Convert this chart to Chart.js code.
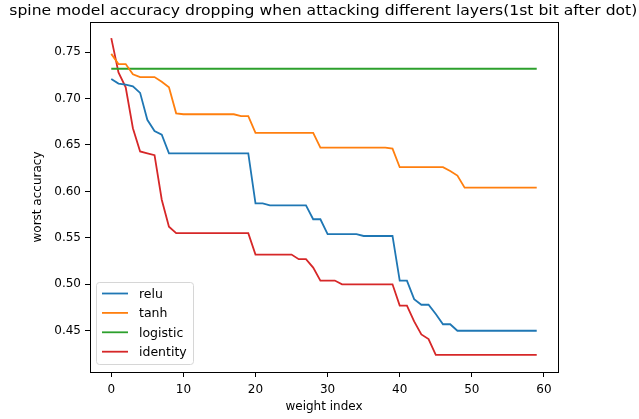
<!DOCTYPE html>
<html>
<head>
<meta charset="utf-8">
<script src="https://cdn.jsdelivr.net/npm/chart.js@4"></script>
<style>
  html, body { margin: 0; padding: 0; background: #fff; }
</style>
</head>
<body>
<canvas id="accChart" width="639" height="419"></canvas>
<script>
// worst accuracy per attacked weight index
const weightIndex = [0,1,2,3,4,5,6,7,8,9,10,11,12,13,14,15,16,17,18,19,20,21,22,23,24,25,26,27,28,29,
  30,31,32,33,34,35,36,37,38,39,40,41,42,43,44,45,46,47,48,49,50,51,52,53,54,55,56,57,58,59];

const relu = [0.721,0.716,0.715,0.713,0.706,0.677,0.665,0.661,0.641,0.641,
  0.641,0.641,0.641,0.641,0.641,0.641,0.641,0.641,0.641,0.641,
  0.587,0.587,0.585,0.585,0.585,0.585,0.585,0.585,0.570,0.570,
  0.554,0.554,0.554,0.554,0.554,0.552,0.552,0.552,0.552,0.552,
  0.504,0.504,0.484,0.478,0.478,0.468,0.457,0.457,0.450,0.450,
  0.450,0.450,0.450,0.450,0.450,0.450,0.450,0.450,0.450,0.450];

const tanh = [0.748,0.737,0.737,0.726,0.723,0.723,0.723,0.718,0.712,0.684,
  0.683,0.683,0.683,0.683,0.683,0.683,0.683,0.683,0.681,0.681,
  0.663,0.663,0.663,0.663,0.663,0.663,0.663,0.663,0.663,0.647,
  0.647,0.647,0.647,0.647,0.647,0.647,0.647,0.647,0.647,0.646,
  0.626,0.626,0.626,0.626,0.626,0.626,0.626,0.622,0.617,0.604,
  0.604,0.604,0.604,0.604,0.604,0.604,0.604,0.604,0.604,0.604];

const logistic = [0.732,0.732,0.732,0.732,0.732,0.732,0.732,0.732,0.732,0.732,
  0.732,0.732,0.732,0.732,0.732,0.732,0.732,0.732,0.732,0.732,
  0.732,0.732,0.732,0.732,0.732,0.732,0.732,0.732,0.732,0.732,
  0.732,0.732,0.732,0.732,0.732,0.732,0.732,0.732,0.732,0.732,
  0.732,0.732,0.732,0.732,0.732,0.732,0.732,0.732,0.732,0.732,
  0.732,0.732,0.732,0.732,0.732,0.732,0.732,0.732,0.732,0.732];

const identity = [0.765,0.728,0.712,0.668,0.643,0.641,0.639,0.591,0.562,0.555,
  0.555,0.555,0.555,0.555,0.555,0.555,0.555,0.555,0.555,0.555,
  0.532,0.532,0.532,0.532,0.532,0.532,0.527,0.527,0.518,0.504,
  0.504,0.504,0.500,0.500,0.500,0.500,0.500,0.500,0.500,0.500,
  0.477,0.477,0.460,0.446,0.441,0.424,0.424,0.424,0.424,0.424,
  0.424,0.424,0.424,0.424,0.424,0.424,0.424,0.424,0.424,0.424];

const seriesNames = ["relu", "tanh", "logistic", "identity"];
const seriesColors = ["#1f77b4", "#ff7f0e", "#2ca02c", "#d62728"];
const xTicks = [0, 10, 20, 30, 40, 50, 60];
const yTicks = [0.45, 0.50, 0.55, 0.60, 0.65, 0.70, 0.75];
const chartTitle = "spine model accuracy dropping when attacking different layers(1st bit after dot)";

const FONT = "'DejaVu Sans', sans-serif";
Chart.defaults.font.family = FONT;
Chart.defaults.color = "#000";

// title drawn by hand so it can sit over the axes centre like matplotlib does
const titlePlugin = {
  id: "wideTitle",
  afterDraw(chart) {
    const c = chart.ctx;
    c.save();
    c.font = "14.5px " + FONT;
    c.fillStyle = "#000";
    c.textBaseline = "alphabetic";
    const w = c.measureText(chartTitle).width;
    const sx = 628 / w;  // the reference glyphs are a bit wider than tall
    c.translate(9.3, 14.6);
    c.scale(sx, 1);
    c.fillText(chartTitle, 0, 0);
    c.restore();
  }
};

// matplotlib style box around the axes
const framePlugin = {
  id: "frame",
  afterDatasetsDraw(chart) {
    const a = chart.chartArea, c = chart.ctx;
    c.save();
    c.strokeStyle = "#000";
    c.lineWidth = 1;
    c.strokeRect(Math.round(a.left) + 0.5, Math.round(a.top) + 0.5,
      Math.round(a.right - a.left), Math.round(a.bottom - a.top));
    c.restore();
  }
};

// legend box in the lower left corner of the axes
const boxLegend = {
  id: "boxLegend",
  afterDraw(chart) {
    const c = chart.ctx;
    const x = 96.5, y = 282.5, w = 97, h = 82, r = 3;
    c.save();
    c.beginPath();
    c.moveTo(x + r, y);
    c.lineTo(x + w - r, y); c.quadraticCurveTo(x + w, y, x + w, y + r);
    c.lineTo(x + w, y + h - r); c.quadraticCurveTo(x + w, y + h, x + w - r, y + h);
    c.lineTo(x + r, y + h); c.quadraticCurveTo(x, y + h, x, y + h - r);
    c.lineTo(x, y + r); c.quadraticCurveTo(x, y, x + r, y);
    c.closePath();
    c.fillStyle = "rgba(255,255,255,0.8)";
    c.fill();
    c.strokeStyle = "#d6d6d6";
    c.lineWidth = 1;
    c.stroke();
    c.font = "12.5px " + FONT;
    c.textBaseline = "middle";
    chart.data.datasets.forEach((ds, i) => {
      const ry = 293.5 + i * 19.4;
      c.strokeStyle = ds.borderColor;
      c.lineWidth = 1.8;
      c.beginPath();
      c.moveTo(102, ry);
      c.lineTo(128, ry);
      c.stroke();
      c.fillStyle = "#000";
      c.fillText(ds.label, 139, ry + 1);
    });
    c.restore();
  }
};

const allSeries = [relu, tanh, logistic, identity];

const ctx = document.getElementById("accChart").getContext("2d");
const accChart = new Chart(ctx, {
  type: "line",
  data: {
    datasets: allSeries.map((vals, k) => ({
      label: seriesNames[k],
      data: weightIndex.map((w, i) => ({ x: w, y: vals[i] })),
      borderColor: seriesColors[k],
      backgroundColor: seriesColors[k],
      borderWidth: 1.8,
      pointRadius: 0,
      tension: 0,
      fill: false
    }))
  },
  options: {
    responsive: false,
    animation: false,
    layout: { padding: { left: 0, right: 81, top: 22, bottom: 0 } },
    plugins: {
      legend: { display: false },
      tooltip: { enabled: false },
      title: { display: false }
    },
    scales: {
      x: {
        type: "linear",
        min: -2.95,
        max: 61.95,
        border: { display: false },
        grid: { drawOnChartArea: false, drawTicks: true, tickLength: 5, tickColor: "#000" },
        ticks: { font: { size: 12 }, padding: 6, maxRotation: 0 },
        afterBuildTicks: s => { s.ticks = xTicks.map(v => ({ value: v })); },
        afterFit: s => { s.height = 47; },
        title: { display: true, text: "weight index", font: { size: 12 }, padding: { top: 0, bottom: 5 } }
      },
      y: {
        type: "linear",
        min: 0.4056,
        max: 0.7823,
        border: { display: false },
        grid: { drawOnChartArea: false, drawTicks: true, tickLength: 5, tickColor: "#000" },
        ticks: { font: { size: 12 }, padding: 4, callback: v => v.toFixed(2) },
        afterBuildTicks: s => { s.ticks = yTicks.map(v => ({ value: v })); },
        afterFit: s => { s.width = 90; },
        title: { display: true, text: "worst accuracy", font: { size: 12 }, padding: { top: 31, bottom: 0 } }
      }
    }
  },
  plugins: [framePlugin, boxLegend, titlePlugin]
});
</script>
</body>
</html>
